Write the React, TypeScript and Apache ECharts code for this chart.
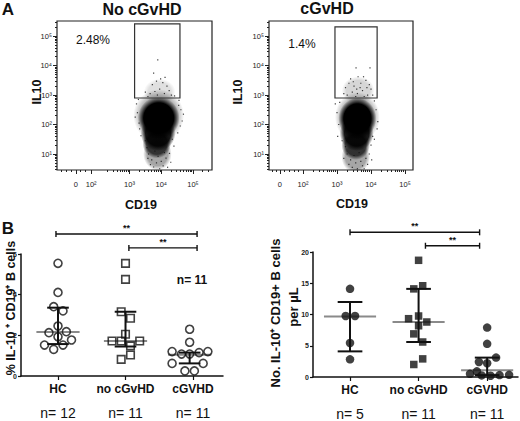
import React, { useEffect, useRef } from 'react';
import * as echarts from 'echarts';

const FONT = "'Liberation Sans', Arial, Helvetica, sans-serif";

// ---------- Panel A: flow cytometry (axis units = decades of the display scale) ----------
const flowTitles = ['No cGvHD', 'cGvHD'];
const flowPercents = ['2.48%', '1.4%'];
const flowXRange = [[0.714, 5.6], [1.0, 5.235]];
const flowYRange = [0.458, 5.51];
const flowXTickPos = [[1.31, 1.79, 3, 4, 5], [1.32, 2, 3, 4, 5]];
const flowXTickText = ['0', '10²', '10³', '10⁴', '10⁵'];
const flowXLinearMinor = [[0.85, 1.0, 1.15, 1.45, 1.6], [1.1, 1.2, 1.45, 1.6, 1.75, 1.85]];
const flowYTickPos = [1, 2, 3, 4, 5];
const flowYTickText = ['10¹', '10²', '10³', '10⁴', '10⁵'];
// gate: xMin, xMax, yMin, yMax
const flowGates = [[3.16, 4.59, 2.9, 5.41], [2.94, 4.18, 2.9, 5.31]];
// density regions: cx, cy, rx, ry, opacity
const flowBlobsNo = [
  [3.95, 3.1, 0.5, 0.45, 0.12],
  [3.92, 2.3, 0.8, 0.9, 0.3],
  [3.88, 1.0, 0.45, 0.55, 0.35],
  [3.86, 1.35, 0.45, 0.5, 0.7],
  [3.9, 1.7, 0.55, 0.6, 0.9],
  [3.92, 2.22, 0.66, 0.72, 1],
];
const flowBlobsC = [
  [3.62, 3.15, 0.48, 0.48, 0.16],
  [3.6, 2.25, 0.66, 0.85, 0.3],
  [3.55, 0.9, 0.42, 0.55, 0.35],
  [3.55, 1.3, 0.42, 0.5, 0.7],
  [3.58, 1.7, 0.5, 0.6, 0.9],
  [3.6, 2.2, 0.56, 0.7, 1],
];
const flowDotsNo = [
  [3.89, 4.19], [3.76, 3.74],
  [3.65, 3.05], [3.8, 3.12], [3.95, 3.2], [4.1, 3.05], [4.25, 3.15], [3.72, 3.35], [4.05, 3.42], [3.88, 3.0],
  [4.18, 3.3], [3.98, 3.55], [4.32, 3.0], [3.58, 2.95], [4.42, 2.97], [3.85, 3.47], [4.12, 3.6], [3.5, 3.1],
  [3.25, 2.4], [3.3, 2.05], [3.22, 2.7], [4.62, 2.5], [4.66, 2.12], [4.56, 2.82], [3.36, 1.62], [4.52, 1.72],
  [3.18, 2.25], [4.7, 2.35], [3.28, 2.85], [4.6, 1.95], [3.32, 1.85], [4.55, 2.65],
  [3.6, 1.0], [3.7, 0.8], [3.85, 0.7], [4.0, 0.75], [4.15, 0.86], [4.26, 1.02], [3.76, 0.56], [4.06, 0.6],
  [3.95, 0.5], [4.3, 0.72], [3.55, 1.22], [4.4, 1.27], [3.66, 0.64], [4.2, 0.55], [3.9, 0.92], [4.1, 1.05], [3.8, 1.1],
  [3.5, 1.45], [4.35, 1.5], [3.58, 0.85],
];
const flowDotsC = [
  [3.56, 3.92], [3.97, 3.92],
  [3.3, 3.0], [3.45, 3.1], [3.6, 3.05], [3.75, 3.15], [3.9, 3.0], [3.5, 3.3], [3.7, 3.4], [3.85, 3.5],
  [3.4, 3.55], [3.62, 3.62], [4.0, 3.2], [3.55, 2.95], [3.95, 3.35], [3.25, 3.25], [3.8, 2.95], [3.68, 3.25],
  [3.48, 3.45], [3.35, 3.4], [3.78, 3.62], [3.2, 3.05], [4.05, 3.0], [3.58, 3.2], [3.88, 3.25],
  [3.0, 2.4], [3.05, 2.0], [4.15, 2.5], [4.2, 2.1], [4.1, 2.8], [3.02, 1.6], [4.1, 1.5], [2.95, 2.7],
  [3.08, 2.75], [4.18, 1.85],
  [3.3, 1.0], [3.4, 0.8], [3.55, 0.7], [3.7, 0.75], [3.85, 0.85], [3.95, 1.0], [3.45, 0.55], [3.75, 0.6],
  [3.6, 0.5], [3.9, 0.65], [3.25, 1.25], [4.0, 1.3], [3.35, 0.65], [3.8, 0.5], [3.5, 0.95], [3.65, 1.05],
  [3.2, 0.85], [4.02, 0.8], [3.15, 1.45], [4.05, 1.6],
];

// ---------- Panel B ----------
const groups = ['HC', 'no cGvHD', 'cGVHD'];
const pctCounts = ['n= 12', 'n= 11', 'n= 11'];
const absCounts = ['n= 5', 'n= 11', 'n= 11'];

// % IL-10+ CD19+ B cells  ([x position incl. jitter, value])
const pctHC = [
  [0, 5.54], [0, 4.11], [-0.064, 3.41], [0.074, 3.2], [0, 2.46], [-0.134, 2.13],
  [0.124, 2.18], [0, 1.93], [-0.2, 1.52], [-0.064, 1.31], [0.074, 1.52], [0.2, 1.77],
];
const pctNoC = [
  [1, 5.54], [1, 4.75], [0.936, 3.16], [1.074, 2.84], [1, 2.05], [0.8, 1.72],
  [0.936, 1.72], [1.21, 1.72], [1.074, 1.48], [1.074, 1.03], [0.936, 0.82],
];
const pctC = [
  [1.95, 2.3], [1.95, 1.66], [1.69, 1.2], [1.83, 1.08], [1.95, 1.08], [2.09, 1.15],
  [2.22, 1.2], [1.69, 0.62], [2.15, 0.62], [1.88, 0.25], [2.02, 0.25],
];
// x, Q1, median, Q3
const pctStats = [[0, 1.57, 2.17, 3.36], [1, 1.45, 1.72, 3.16], [1.95, 0.62, 1.05, 1.15]];
// xStart, xEnd, y
const pctBrackets = [[-0.03, 2.06, 6.98], [1.05, 2.06, 6.3]];

// No. IL-10+ CD19+ B cells per µL
const absHC = [[0, 14.1], [-0.063, 9.76], [0.073, 9.76], [0, 5.44], [0, 2.83]];
const absNoC = [
  [1, 18.67], [0.93, 14.1], [1.06, 14.6], [0.854, 9.33], [1, 9.76], [1.12, 8.8],
  [1, 8.2], [0.93, 6.9], [1.06, 5.6], [1.06, 2.9], [0.93, 2.0],
];
const absC = [
  [2, 7.9], [2, 5.3], [2.13, 3.1], [1.88, 2.4], [2, 2.2], [1.75, 0.5],
  [1.85, 0.9], [1.92, 0.25], [2.05, 0.2], [2.18, 0.3], [2.32, 0.35],
];
const absStats = [[0, 4.1, 9.7, 12.0], [1, 5.6, 8.8, 14.1], [2, 0.3, 1.1, 3.1]];
const absBrackets = [[0, 1.89, 23.15], [1.1, 1.89, 21.0]];

function logMinor(min: number, max: number, fromDecade: number) {
  const out: number[] = [];
  for (let k = Math.floor(fromDecade); k <= Math.ceil(max); k++) {
    for (let m = 2; m <= 9; m++) {
      const p = k + Math.log10(m);
      if (p >= min && p <= max && p >= fromDecade) out.push(p);
    }
  }
  return out;
}

function lookup(pos: number[], text: string[]) {
  return (v: number) => {
    const i = pos.findIndex((p) => Math.abs(p - v) < 1e-6);
    return i >= 0 ? text[i] : '';
  };
}

export default function App() {
  const ref = useRef<HTMLDivElement>(null);
  useEffect(() => {
    const chart = echarts.init(ref.current!, null, { renderer: 'svg', width: 520, height: 421 });

    const grids = [
      { left: 57, top: 21, width: 155, height: 149, show: true, borderColor: '#222', borderWidth: 1.2, backgroundColor: '#fff' },
      { left: 269, top: 21, width: 144, height: 149, show: true, borderColor: '#222', borderWidth: 1.2, backgroundColor: '#fff' },
      { left: 21, top: 254, width: 202, height: 122 },
      { left: 313, top: 252, width: 205, height: 125 },
    ];

    const xAxis: any[] = [];
    const yAxis: any[] = [];
    for (let g = 0; g < 2; g++) {
      const [xmin, xmax] = flowXRange[g];
      const common = { type: 'value', gridIndex: g, min: xmin, max: xmax, splitLine: { show: false }, position: 'bottom' };
      xAxis.push({
        ...common,
        axisLine: { show: false, onZero: false },
        axisTick: { show: true, customValues: flowXTickPos[g], length: 4, lineStyle: { color: '#222' } },
        axisLabel: {
          show: true, customValues: flowXTickPos[g], formatter: lookup(flowXTickPos[g], flowXTickText),
          fontSize: 7.5, color: '#222', fontFamily: FONT, margin: 10,
        },
      });
      xAxis.push({
        ...common,
        axisLine: { show: false, onZero: false },
        axisTick: { show: true, customValues: [...flowXLinearMinor[g], ...logMinor(xmin, xmax, 2)], length: 2, lineStyle: { color: '#222' } },
        axisLabel: { show: false },
      });
      const ycommon = { type: 'value', gridIndex: g, min: flowYRange[0], max: flowYRange[1], splitLine: { show: false }, position: 'left' };
      yAxis.push({
        ...ycommon,
        axisLine: { show: false, onZero: false },
        axisTick: { show: true, customValues: flowYTickPos, length: 4, lineStyle: { color: '#222' } },
        axisLabel: {
          show: true, customValues: flowYTickPos, formatter: lookup(flowYTickPos, flowYTickText),
          fontSize: 7.5, color: '#222', fontFamily: FONT, margin: 5,
        },
      });
      yAxis.push({
        ...ycommon,
        axisLine: { show: false, onZero: false },
        axisTick: { show: true, customValues: logMinor(flowYRange[0], flowYRange[1], 0), length: 2, lineStyle: { color: '#222' } },
        axisLabel: { show: false },
      });
    }
    const catLabel = (counts: string[]) => ({
      show: true,
      customValues: [0, 1, 2],
      margin: 6,
      formatter: (v: number) => `{c|${groups[Math.round(v)]}}\n{n|${counts[Math.round(v)]}}`,
      rich: {
        c: { fontSize: 12, fontWeight: 'bold', color: '#111', fontFamily: FONT, lineHeight: 14 },
        n: { fontSize: 14, color: '#111', fontFamily: FONT, lineHeight: 34 },
      },
    });
    const dotX = (g: number, min: number, max: number, counts: string[]) => ({
      type: 'value', gridIndex: g, min, max, splitLine: { show: false },
      axisLine: { show: true, onZero: false, lineStyle: { color: '#111', width: 1.5 } },
      axisTick: { show: true, customValues: [0, 1, 2], length: 4, lineStyle: { color: '#111', width: 1.2 } },
      axisLabel: catLabel(counts),
    });
    const dotY = (g: number, max: number, interval: number) => ({
      type: 'value', gridIndex: g, min: 0, max, interval, splitLine: { show: false },
      axisLine: { show: true, onZero: false, lineStyle: { color: '#111', width: 1.5 } },
      axisTick: { show: true, length: 3, lineStyle: { color: '#111', width: 1.2 } },
      axisLabel: { fontSize: 7, fontWeight: 'bold', color: '#222', fontFamily: FONT, margin: 4 },
    });
    xAxis.push(dotX(2, -0.548, 2.444, pctCounts));
    xAxis.push(dotX(3, -0.54, 2.45, absCounts));
    yAxis.push(dotY(2, 6, 2));
    yAxis.push(dotY(3, 20, 5));

    const blobSeries = (data: number[][], ai: number) => ({
      type: 'custom', xAxisIndex: ai, yAxisIndex: ai, data, clip: true, silent: true, z: 2,
      encode: { x: 0, y: 1 },
      renderItem: (_p: any, api: any) => {
        const c = api.coord([api.value(0), api.value(1)]);
        const s = api.size([api.value(2), api.value(3)]);
        return {
          type: 'ellipse',
          shape: { cx: c[0], cy: c[1], rx: s[0], ry: s[1] },
          style: {
            fill: new echarts.graphic.RadialGradient(0.5, 0.5, 0.5, [
              { offset: 0, color: 'rgba(0,0,0,1)' },
              { offset: 0.72, color: 'rgba(0,0,0,1)' },
              { offset: 1, color: 'rgba(0,0,0,0)' },
            ]),
            opacity: api.value(4),
          },
        };
      },
    });
    const gateSeries = (data: number[][], ai: number) => ({
      type: 'custom', xAxisIndex: ai, yAxisIndex: ai, data, clip: false, silent: true, z: 4,
      encode: { x: [0, 1], y: [2, 3] },
      renderItem: (_p: any, api: any) => {
        const a = api.coord([api.value(0), api.value(3)]);
        const b = api.coord([api.value(1), api.value(2)]);
        return {
          type: 'rect',
          shape: { x: a[0], y: a[1], width: b[0] - a[0], height: b[1] - a[1] },
          style: { fill: 'none', stroke: '#333', lineWidth: 1.2 },
        };
      },
    });
    const dotsSeries = (data: number[][], ai: number) => ({
      type: 'scatter', xAxisIndex: ai, yAxisIndex: ai, data, symbol: 'rect', symbolSize: 1.2,
      itemStyle: { color: '#111' }, silent: true, z: 3,
    });
    const statsSeries = (data: number[][], ai: number, capHalf: number, medHalf: number) => ({
      type: 'custom', xAxisIndex: ai, yAxisIndex: ai, data, silent: true, z: 2, clip: false,
      encode: { x: 0, y: [1, 2, 3] },
      renderItem: (_p: any, api: any) => {
        const x = api.value(0);
        const a = api.coord([x, api.value(1)]);
        const m = api.coord([x, api.value(2)]);
        const b = api.coord([x, api.value(3)]);
        const ch = api.size([capHalf, 0])[0];
        const mh = api.size([medHalf, 0])[0];
        const black = { stroke: '#111', lineWidth: 2 };
        return {
          type: 'group',
          children: [
            { type: 'line', shape: { x1: m[0] - mh, y1: m[1], x2: m[0] + mh, y2: m[1] }, style: { stroke: '#8a8a8a', lineWidth: 2 } },
            { type: 'line', shape: { x1: a[0], y1: a[1], x2: b[0], y2: b[1] }, style: black },
            { type: 'line', shape: { x1: a[0] - ch, y1: a[1], x2: a[0] + ch, y2: a[1] }, style: black },
            { type: 'line', shape: { x1: b[0] - ch, y1: b[1], x2: b[0] + ch, y2: b[1] }, style: black },
          ],
        };
      },
    });
    const bracketSeries = (data: number[][], ai: number) => ({
      type: 'custom', xAxisIndex: ai, yAxisIndex: ai, data, silent: true, z: 2, clip: false,
      encode: { x: [0, 1], y: 2 },
      renderItem: (_p: any, api: any) => {
        const p1 = api.coord([api.value(0), api.value(2)]);
        const p2 = api.coord([api.value(1), api.value(2)]);
        const st = { stroke: '#111', lineWidth: 1.4 };
        return {
          type: 'group',
          children: [
            { type: 'line', shape: { x1: p1[0], y1: p1[1], x2: p2[0], y2: p2[1] }, style: st },
            { type: 'line', shape: { x1: p1[0], y1: p1[1] - 3, x2: p1[0], y2: p1[1] + 3 }, style: st },
            { type: 'line', shape: { x1: p2[0], y1: p2[1] - 3, x2: p2[0], y2: p2[1] + 3 }, style: st },
            {
              type: 'text',
              style: {
                text: '**', x: (p1[0] + p2[0]) / 2, y: p1[1] - 6, textAlign: 'center', textVerticalAlign: 'middle',
                fontSize: 9, fontWeight: 'bold', fontFamily: FONT, fill: '#111',
              },
            },
          ],
        };
      },
    });
    const pts = (data: number[][], ai: number, symbol: string, size: number, filled: boolean) => ({
      type: 'scatter', xAxisIndex: ai, yAxisIndex: ai, data, symbol, symbolSize: size, z: 5, silent: true,
      itemStyle: filled
        ? { color: '#111' }
        : { color: 'rgba(255,255,255,0)', borderColor: '#111', borderWidth: 1.6 },
    });

    const txt = (text: string, x: number, y: number, size: number, bold: boolean, rotate = false) => ({
      type: 'text', x, y, rotation: rotate ? Math.PI / 2 : 0, silent: true,
      style: {
        text, x: 0, y: 0, textAlign: 'center', textVerticalAlign: 'middle',
        fontSize: size, fontWeight: bold ? 'bold' : 'normal', fontFamily: FONT, fill: '#111',
      },
    });

    const option: any = {
      animation: false,
      backgroundColor: '#fff',
      grid: grids,
      xAxis,
      yAxis,
      series: [
        blobSeries(flowBlobsNo, 0),
        dotsSeries(flowDotsNo, 0),
        gateSeries([flowGates[0]], 0),
        blobSeries(flowBlobsC, 2),
        dotsSeries(flowDotsC, 2),
        gateSeries([flowGates[1]], 2),

        statsSeries(pctStats, 4, 0.16, 0.32),
        bracketSeries(pctBrackets, 4),
        pts(pctHC, 4, 'circle', 8, false),
        pts(pctNoC, 4, 'rect', 7.5, false),
        pts(pctC, 4, 'circle', 8, false),

        statsSeries(absStats, 5, 0.18, 0.38),
        bracketSeries(absBrackets, 5),
        pts(absHC, 5, 'circle', 8.5, true),
        pts(absNoC, 5, 'rect', 7.5, true),
        pts(absC, 5, 'circle', 8.5, true),
      ],
      graphic: [
        txt('A', 8, 9, 17, true),
        txt('B', 8, 228, 17, true),
        txt(flowTitles[0], 142, 9, 16, true),
        txt(flowTitles[1], 327, 8, 16, true),
        txt('IL10', 37, 92, 12.5, true, true),
        txt('IL10', 238, 92, 12.5, true, true),
        txt('CD19', 141, 205, 12.5, true),
        txt('CD19', 352, 204, 12.5, true),
        txt(flowPercents[0], 93, 40, 12, false),
        txt(flowPercents[1], 302, 44, 12, false),
        txt('n= 11', 192, 280, 12, true),
        txt('% IL-10 ⁺ CD19⁺ B cells', 11, 308, 12.5, true, true),
        txt('No. IL-10⁺ CD19+ B cells', 275, 313, 13, true, true),
        txt('per µL', 293, 307, 13, true, true),
      ],
    };
    chart.setOption(option);
    return () => chart.dispose();
  }, []);
  return (
    <div
      ref={ref}
      style={{ position: 'absolute', left: 0, top: 0, width: 520, height: 421, background: '#fff' }}
    />
  );
}
